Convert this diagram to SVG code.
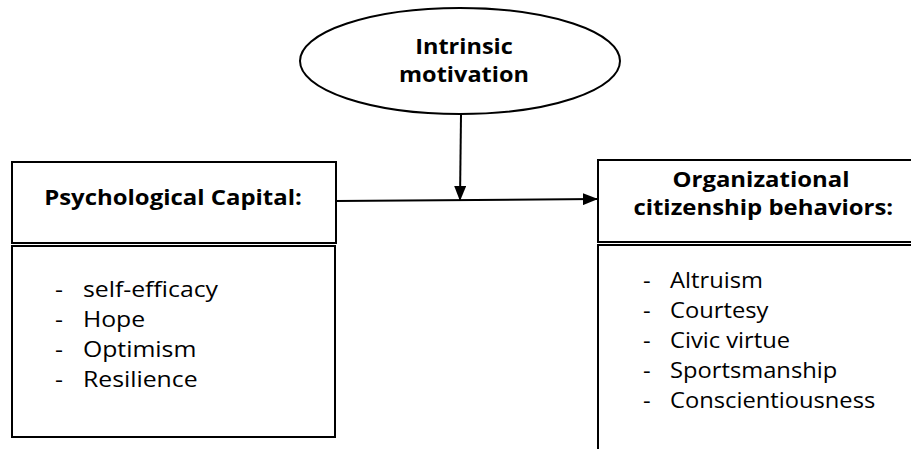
<svg xmlns="http://www.w3.org/2000/svg" width="911" height="449" viewBox="0 0 911 449">
<style>
.box{fill:#fff;stroke:#000;stroke-width:2}
.t{font-family:"Open Sans","Liberation Sans",sans-serif;fill:#000}
.h{font-weight:bold;font-size:21px}
.li{font-size:21px}
.c{stroke:#000;stroke-width:2;fill:none}
</style>
<defs>
<marker id="ah" markerWidth="15" markerHeight="12" refX="14" refY="6" orient="auto" markerUnits="userSpaceOnUse">
<path d="M0,0 L15,6 L0,12 z" fill="#000"/>
</marker>
</defs>
<rect width="911" height="449" fill="#fff"/>
<g id="connectors">
<line class="c" x1="461" y1="115" x2="460" y2="200" marker-end="url(#ah)"/>
<line class="c" x1="336" y1="201" x2="597" y2="199" marker-end="url(#ah)"/>
</g>
<g id="intrinsic">
<ellipse class="box" cx="460" cy="61" rx="160" ry="53"/>
<g transform="translate(464,0) scale(1.12,1)">
<text class="t h" x="0" y="54" text-anchor="middle">Intrinsic</text>
<text class="t h" x="0" y="82" text-anchor="middle">motivation</text>
</g>
</g>
<g id="psycap">
<rect class="box" x="12" y="162" width="324" height="81"/>
<g transform="translate(173,0) scale(1.14,1)">
<text class="t h" x="0" y="205" text-anchor="middle">Psychological Capital:</text>
</g>
<rect class="box" x="12" y="246" width="323" height="191"/>
<g class="t li" transform="translate(55,0) scale(1.18,1)">
<text x="0" y="297">-</text><text x="23.7" y="297">self-efficacy</text>
<text x="0" y="327">-</text><text x="23.7" y="327">Hope</text>
<text x="0" y="357">-</text><text x="23.7" y="357">Optimism</text>
<text x="0" y="387">-</text><text x="23.7" y="387">Resilience</text>
</g>
</g>
<g id="ocb">
<rect class="box" x="598" y="160" width="330" height="82"/>
<g transform="translate(761,0) scale(1.14,1)">
<text class="t h" x="0" y="187" text-anchor="middle">Organizational</text>
<text class="t h" x="2" y="215" text-anchor="middle">citizenship behaviors:</text>
</g>
<path class="c" d="M598,452 V245 H915"/>
<g class="t li" transform="translate(643,0) scale(1.13,1)">
<text x="0" y="288">-</text><text x="23.9" y="288">Altruism</text>
<text x="0" y="318">-</text><text x="23.9" y="318">Courtesy</text>
<text x="0" y="348">-</text><text x="23.9" y="348">Civic virtue</text>
<text x="0" y="378">-</text><text x="23.9" y="378">Sportsmanship</text>
<text x="0" y="408">-</text><text x="23.9" y="408">Conscientiousness</text>
</g>
</g>
</svg>
